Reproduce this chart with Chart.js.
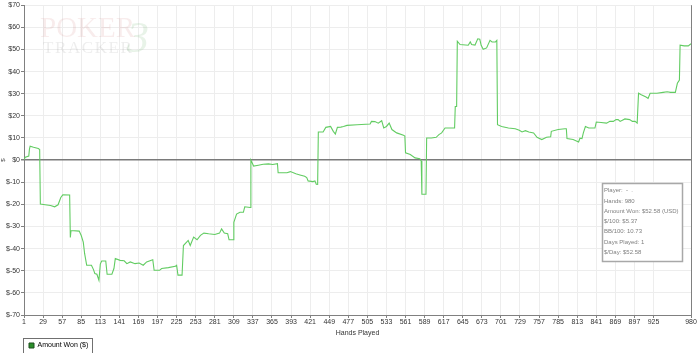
<!DOCTYPE html>
<html>
<head>
<meta charset="utf-8">
<script src="https://cdn.jsdelivr.net/npm/chart.js@4/dist/chart.umd.min.js"></script>
<style>
html,body{margin:0;padding:0;background:#fff;}
#wrap{width:700px;height:353px;}
</style>
</head>
<body>
<div id="wrap"><canvas id="c" width="700" height="353"></canvas></div>
<script>
const seriesLabel = 'Amount Won ($)';
const xTickValues = [1,29,57,85,113,141,169,197,225,253,281,309,337,365,393,421,449,477,505,533,561,589,617,645,673,701,729,757,785,813,841,869,897,925,980];
const hands = [1,3,8,9,10,15,22,24,25,32,40,46,51,55,58,68,69,70,82,85,88,90,93,100,103,105,108,111,113,115,121,123,130,133,135,142,148,152,157,164,170,176,181,190,192,200,203,213,223,225,227,233,235,240,242,245,250,255,260,265,272,281,288,291,295,300,302,308,309,313,318,323,325,333,334,338,345,352,360,366,373,374,387,392,400,406,413,416,418,425,428,430,432,433,440,444,451,455,458,461,466,470,475,490,509,511,516,521,526,529,533,537,541,548,558,560,561,568,575,582,584,585,591,592,599,606,610,614,619,633,634,636,637,641,653,656,658,663,667,670,672,675,680,685,688,693,695,696,702,712,722,728,732,737,742,749,754,761,768,774,775,785,795,797,798,807,815,817,820,822,825,830,839,841,848,856,861,866,870,873,876,883,890,894,898,901,903,907,914,917,920,930,939,945,950,957,960,963,964,970,976,980];
const amounts = [0.3,1.3,1.8,5.0,6.3,5.8,5.2,4.8,-19.9,-20.2,-20.5,-21.1,-20.2,-16.9,-15.7,-15.8,-35.0,-31.8,-32.1,-34.1,-37.1,-42.3,-47.5,-47.5,-49.5,-51.3,-51.6,-54.3,-47.0,-45.6,-45.6,-51.6,-51.6,-49.0,-44.5,-45.3,-45.5,-46.8,-46.0,-46.8,-46.5,-47.5,-46.0,-45.0,-49.8,-49.8,-49.0,-48.6,-48.0,-47.5,-52.0,-52.0,-38.6,-37.0,-36.3,-38.6,-34.8,-36.0,-34.0,-33.0,-33.3,-33.6,-33.0,-31.1,-33.0,-33.3,-36.0,-36.0,-28.1,-24.4,-23.6,-23.6,-21.1,-21.4,0.0,-2.7,-2.3,-1.9,-1.7,-2.0,-1.6,-5.7,-5.7,-5.2,-6.2,-6.7,-7.3,-7.9,-9.4,-9.7,-9.4,-10.9,-11.0,12.7,12.7,14.8,15.2,13.0,11.8,14.8,14.9,15.2,15.7,16.0,16.3,17.5,17.4,16.7,17.8,14.5,15.2,16.7,13.8,12.3,11.2,10.9,3.3,2.5,1.0,0.6,-0.4,-15.4,-15.4,10.0,10.0,10.3,11.5,12.3,14.5,14.5,24.2,24.2,53.7,52.2,51.9,53.4,52.2,52.0,54.8,54.6,51.9,50.1,50.7,54.1,53.4,53.4,54.1,16.0,15.2,14.5,14.2,13.5,12.7,13.3,12.7,12.3,10.3,9.3,10.3,10.5,13.0,13.8,14.2,14.2,9.7,9.3,8.2,9.9,9.7,12.3,15.2,14.5,14.5,17.2,17.0,16.7,17.5,17.5,18.3,18.3,17.5,18.6,18.3,17.5,17.5,16.7,30.2,29.5,28.5,27.9,30.2,30.2,30.6,30.9,30.6,30.6,34.7,36.2,51.9,51.6,51.6,52.58];
const infoLines = ['Player:  -  .','Hands: 980','Amount Won: $52.58 (USD)','$/100: $5.37','BB/100: 10.73','Days Played: 1','$/Day: $52.58'];

const FONT = 'Liberation Sans, Arial, sans-serif';

const decor = {
  id: 'decor',
  beforeDatasetsDraw(chart) {
    const ctx = chart.ctx;
    ctx.save();
    ctx.textBaseline = 'alphabetic';
    ctx.textAlign = 'left';
    ctx.font = '29px "Liberation Serif", serif';
    ctx.fillStyle = 'rgba(205,120,120,0.14)';
    ctx.fillText('POKER', 40, 37);
    ctx.font = '17px "Liberation Serif", serif';
    ctx.fillStyle = 'rgba(150,150,150,0.17)';
    let x = 43;
    for (const ch of 'TRACKER') { ctx.fillText(ch, x, 53); x += ctx.measureText(ch).width + 1.6; }
    ctx.font = 'italic 44px "Liberation Serif", serif';
    ctx.fillStyle = 'rgba(120,185,120,0.17)';
    ctx.fillText('3', 127, 52);
    ctx.restore();
  },
  afterDraw(chart) {
    const ctx = chart.ctx;
    const a = chart.chartArea;
    ctx.save();
    ctx.strokeStyle = '#808080';
    ctx.lineWidth = 1;
    ctx.beginPath();
    ctx.moveTo(Math.round(a.right) + 0.5, a.top);
    ctx.lineTo(Math.round(a.right) + 0.5, a.bottom);
    ctx.stroke();
    const bx = 602.5, by = 183.5, bw = 80, bh = 78;
    ctx.fillStyle = '#ffffff';
    ctx.fillRect(bx, by, bw, bh);
    ctx.strokeStyle = '#a8a8a8';
    ctx.lineWidth = 1.5;
    ctx.strokeRect(bx, by, bw, bh);
    ctx.fillStyle = '#808080';
    ctx.font = '6px ' + FONT;
    ctx.textBaseline = 'middle';
    ctx.textAlign = 'left';
    infoLines.forEach((t, i) => ctx.fillText(t, 604, 190.7 + i * 10.25));
    const lg = chart.legend;
    if (lg && lg.legendHitBoxes && lg.legendHitBoxes.length) {
      const hb = lg.legendHitBoxes[0];
      ctx.strokeStyle = '#707070';
      ctx.lineWidth = 1;
      ctx.strokeRect(Math.round(hb.left) - 5.5, 338.5, Math.round(hb.width) + 10, 20);
    }
    ctx.restore();
  }
};

new Chart(document.getElementById('c'), {
  type: 'line',
  data: {
    datasets: [{
      label: seriesLabel,
      data: hands.map((h, i) => ({x: h, y: amounts[i]})),
      borderColor: '#62cc62',
      backgroundColor: '#2a8f2a',
      borderWidth: 1.1,
      pointRadius: 0,
      tension: 0,
      fill: false
    }]
  },
  options: {
    responsive: false,
    animation: false,
    layout: {padding: {top: 3, right: 9, left: 0, bottom: 0}},
    plugins: {
      tooltip: {enabled: false},
      legend: {
        position: 'bottom',
        align: 'start',
        fullSize: false,
        maxHeight: 16,
        labels: {
          font: {size: 7, family: FONT},
          color: '#333',
          boxWidth: 5,
          boxHeight: 5,
          padding: 5,
          generateLabels: (chart) => chart.data.datasets.map((d, i) => ({
            text: d.label, fillStyle: '#2a8f2a', strokeStyle: '#1f4f1f', lineWidth: 1, datasetIndex: i, hidden: false
          }))
        }
      }
    },
    scales: {
      x: {
        type: 'linear',
        min: 1,
        max: 980,
        afterBuildTicks: (s) => { s.ticks = xTickValues.map(v => ({value: v})); },
        afterFit: (s) => { s.height = 22; },
        ticks: {autoSkip: false, maxRotation: 0, font: {size: 7, family: FONT}, color: '#333', padding: 0},
        grid: {color: '#ededed', tickLength: 3, tickColor: '#808080'},
        border: {color: '#808080', width: 1},
        title: {display: true, text: 'Hands Played', font: {size: 7, family: FONT}, color: '#333', padding: {top: 1, bottom: 0}}
      },
      y: {
        min: -70,
        max: 70,
        afterFit: (s) => { s.width = 24; },
        ticks: {stepSize: 10, font: {size: 7, family: FONT}, color: '#333', padding: 1, callback: (v) => '$' + v},
        grid: {
          color: (c) => c.tick && c.tick.value === 0 ? '#7a7a7a' : '#ededed',
          lineWidth: (c) => c.tick && c.tick.value === 0 ? 1.5 : 1,
          tickLength: 3,
          tickColor: '#808080'
        },
        border: {color: '#808080', width: 1},
        title: {display: true, text: '$', font: {size: 6, family: FONT}, color: '#333', padding: 0}
      }
    }
  },
  plugins: [decor]
});
</script>
</body>
</html>
